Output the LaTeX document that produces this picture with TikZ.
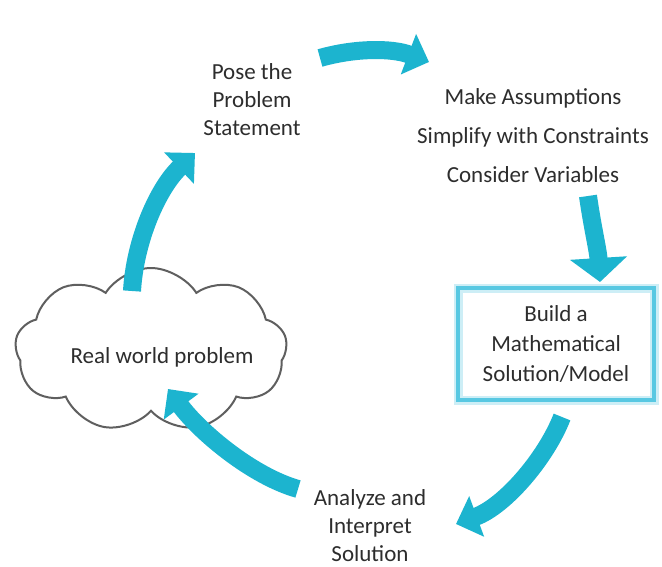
\documentclass[tikz,border=0pt]{standalone}
\usepackage{fontspec}
\setmainfont{Carlito}
\usetikzlibrary{arrows.meta,shapes.symbols}
\definecolor{flow}{RGB}{28,180,207}
\definecolor{boxline}{RGB}{88,200,226}
\definecolor{ink}{RGB}{45,45,45}
\definecolor{cloudline}{RGB}{95,95,95}
\tikzset{
  label/.style={text=ink, align=center, inner sep=0pt},
  flowarrow/.style={draw=flow, line width=9pt},
  smallhead/.style={-{Triangle[width=21pt,length=11pt]}},
  widehead/.style={-{Triangle[width=28pt,length=12pt]}},
  modelbox/.style={draw=boxline, line width=2pt, minimum width=98pt, minimum height=56pt,
    preaction={draw=boxline!30, line width=4.5pt}},
  problemcloud/.style={cloud, draw=cloudline, line width=1pt, cloud puffs=9,
    cloud puff arc=115, aspect=1.75, minimum width=136pt, minimum height=82pt, inner sep=0pt},
}
\begin{document}
\begin{tikzpicture}[x=0.5pt,y=-0.5pt]
\useasboundingbox (0,0) rectangle (662,566);
\fill[white] (0,0) rectangle (662,566);

% stages of the cycle
\node[label, font=\fontsize{11.5}{14}\selectfont] (pose) at (252,100)
  {Pose the\\Problem\\Statement};
\node[label, font=\fontsize{11.5}{19.5}\selectfont] (assume) at (533,136)
  {Make Assumptions\\Simplify with Constraints\\Consider Variables};
\node[modelbox, label, font=\fontsize{11.5}{15}\selectfont] (model) at (556,344)
  {Build a\\Mathematical\\Solution/Model};
\node[label, font=\fontsize{11.5}{14}\selectfont] (analyze) at (370,526)
  {Analyze and\\Interpret\\Solution};
\node[problemcloud, label] (world) at (151,350) {};
\node[label, font=\fontsize{11.5}{14}\selectfont] (worldtext) at (162,357) {Real world problem};

% arrow end points
\coordinate (t1) at (320,58);  \coordinate (h1) at (429,62);
\coordinate (t2) at (588,196); \coordinate (h2) at (600,282);
\coordinate (t3) at (562,417); \coordinate (h3) at (456,524);
\coordinate (t4) at (298,489); \coordinate (h4) at (168,389);
\coordinate (t5) at (132,291); \coordinate (h5) at (195,153);

% curved arrows joining the stages
\draw[flowarrow, smallhead] (t1) .. controls (355,48) and (392,48) .. (h1);
\draw[flowarrow, widehead] (t2) .. controls (592,225) and (598,250) .. (h2);
\draw[flowarrow, smallhead] (t3) .. controls (546,458) and (505,506) .. (h3);
\draw[flowarrow, smallhead] (t4) .. controls (252,476) and (200,432) .. (h4);
\draw[flowarrow, smallhead] (t5) .. controls (135,240) and (158,188) .. (h5);
\end{tikzpicture}
\end{document}
